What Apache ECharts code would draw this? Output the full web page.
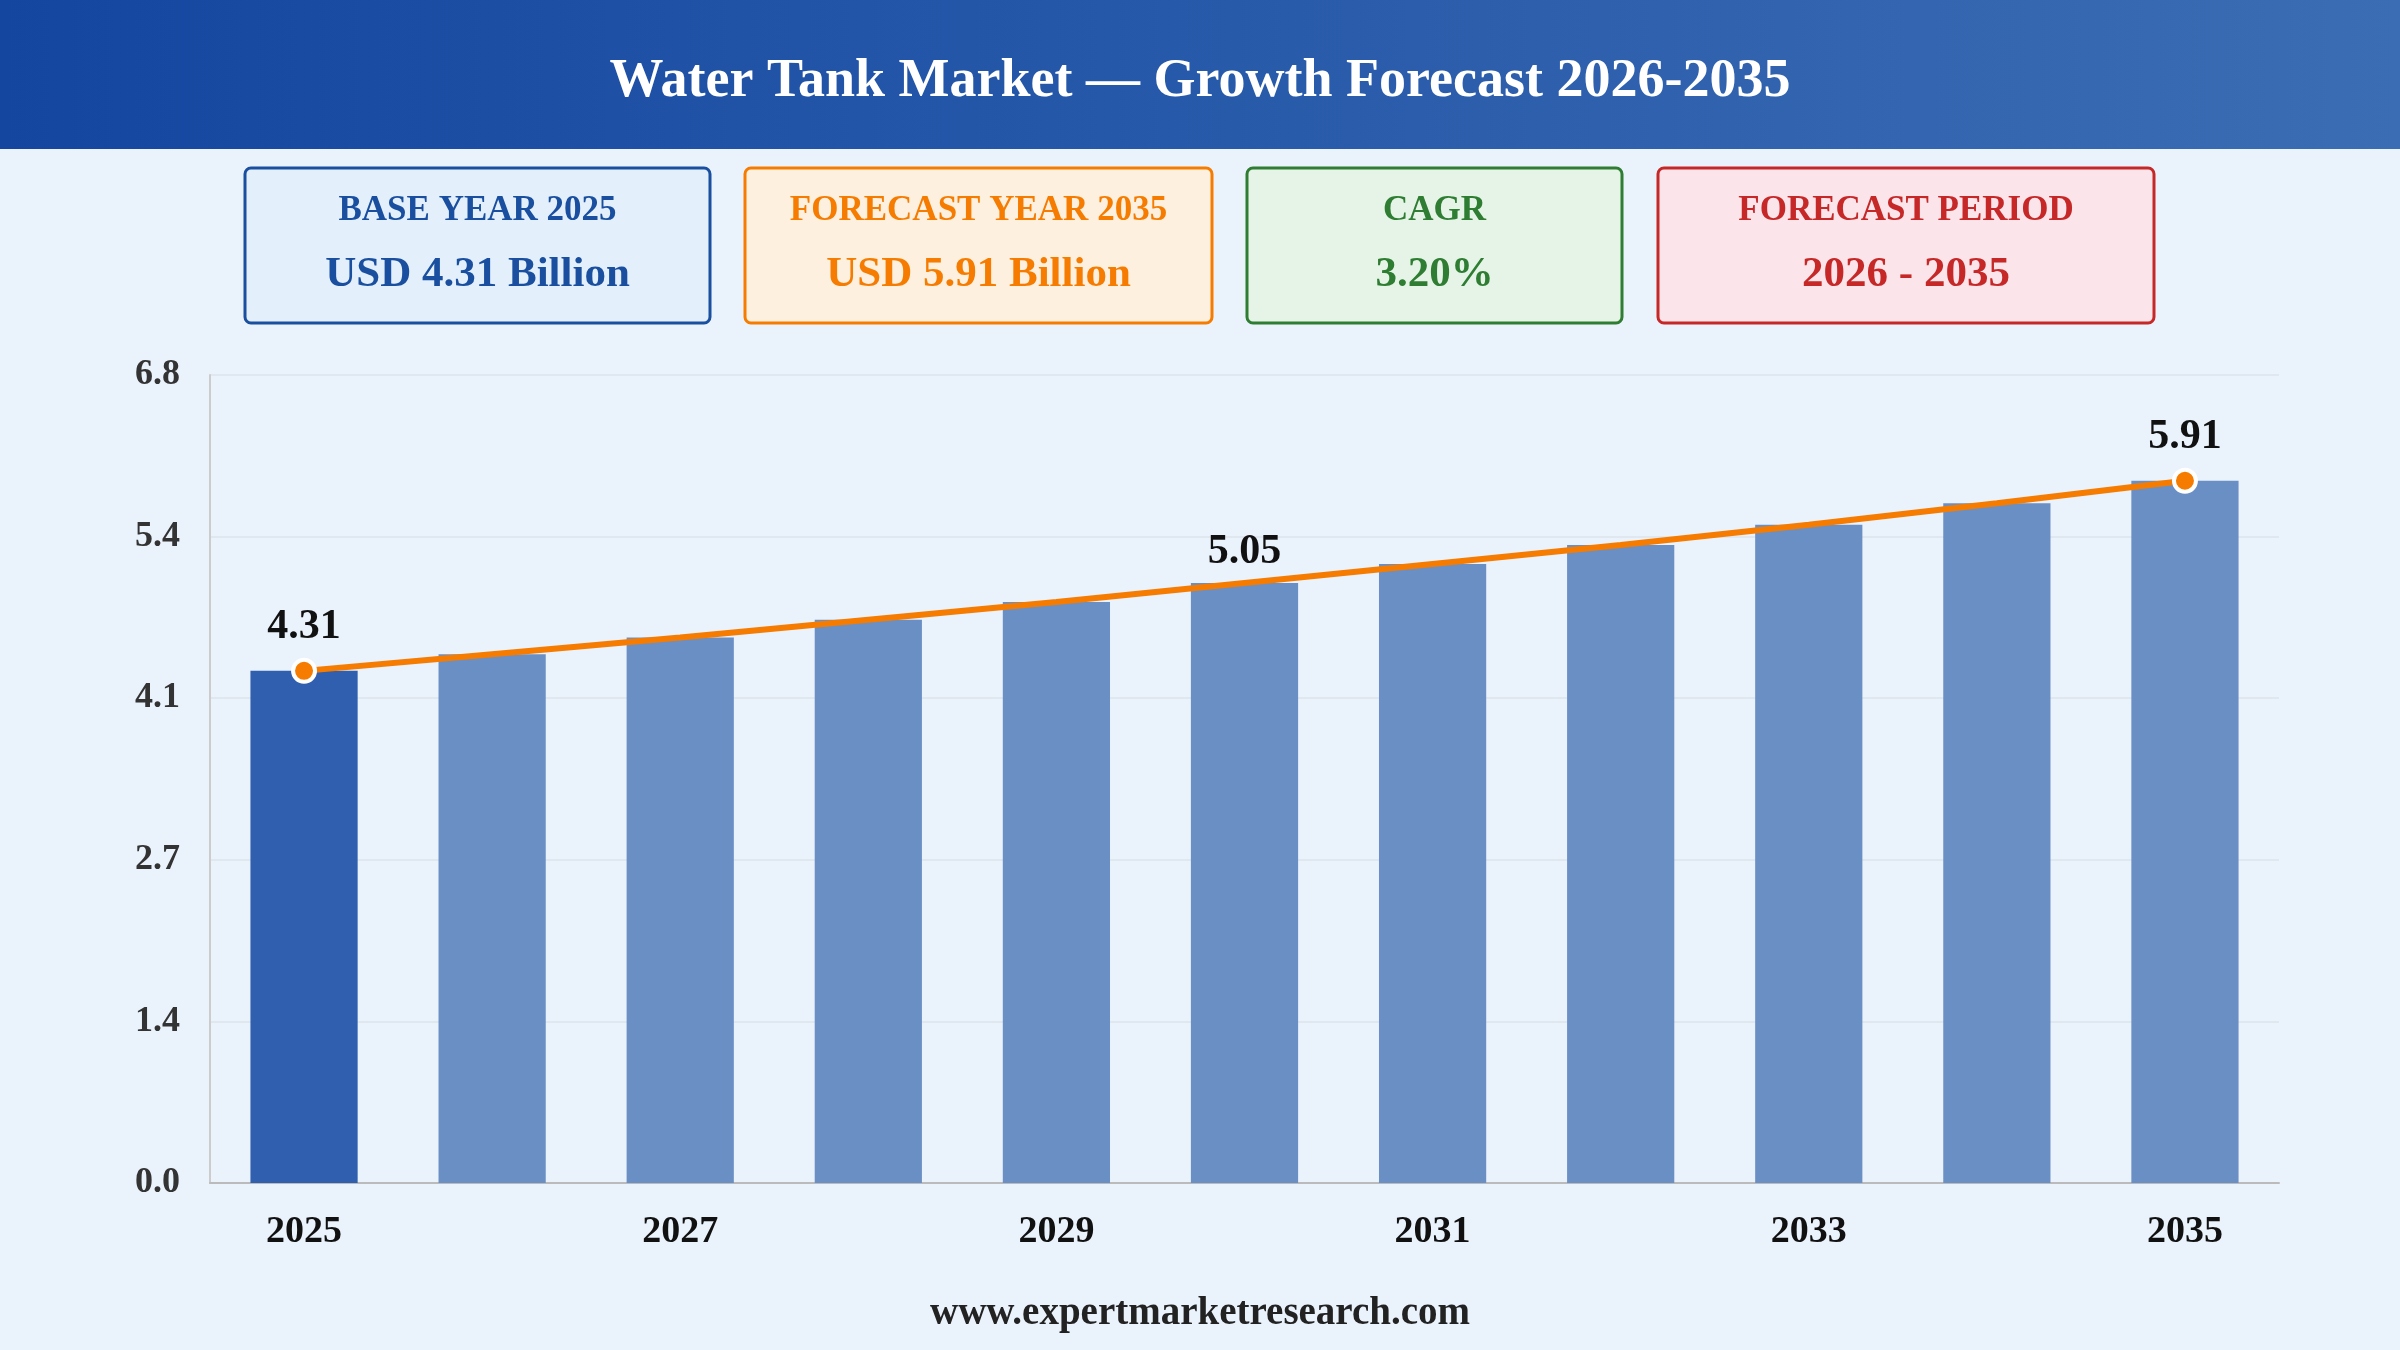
<!DOCTYPE html>
<html><head><meta charset="utf-8">
<script src="https://cdn.jsdelivr.net/npm/echarts@6/dist/echarts.min.js"></script>
<style>html,body{margin:0;padding:0;background:#eaf2fc}#c{width:2400px;height:1350px}</style>
</head><body><div id="c"></div>
<script>
const years = ['2025','2026','2027','2028','2029','2030','2031','2032','2033','2034','2035'];
const values = [4.31,4.45,4.59,4.74,4.89,5.05,5.21,5.37,5.54,5.72,5.91];
const labeledYears = ['2025','2030','2035'];
const dotYears = ['2025','2035'];
const cards = [
  {t:'BASE YEAR 2025', v:'USD 4.31 Billion', c:'#1a4fa0', bg:'#e3f0fc', x:245, w:465},
  {t:'FORECAST YEAR 2035', v:'USD 5.91 Billion', c:'#f57c00', bg:'#fdf0de', x:745, w:467},
  {t:'CAGR', v:'3.20%', c:'#2e7d32', bg:'#e5f4e7', x:1247, w:375},
  {t:'FORECAST PERIOD', v:'2026 - 2035', c:'#c62828', bg:'#fbe4ea', x:1658, w:496}
];
const F = '"Liberation Serif","DejaVu Serif",serif';
const chart = echarts.init(document.getElementById('c'));
const g = [
  {type:'rect', shape:{x:0,y:0,width:2400,height:149}, style:{fill:new echarts.graphic.LinearGradient(0,0,1,0,[{offset:0,color:'#1446a0'},{offset:1,color:'#3b6db4'}])}},
  {type:'text', x:1200, y:82, style:{text:'Water Tank Market — Growth Forecast 2026-2035', fill:'#fff', font:'bold 54px '+F, align:'center', verticalAlign:'middle'}},
  {type:'text', x:1200, y:1314, style:{text:'www.expertmarketresearch.com', fill:'#222', font:'bold 39px '+F, align:'center', verticalAlign:'middle'}}
];
cards.forEach(k=>{
  g.push({type:'rect', shape:{x:k.x,y:168,width:k.w,height:155,r:6}, style:{fill:k.bg, stroke:k.c, lineWidth:3}});
  g.push({type:'text', x:k.x+k.w/2, y:211, style:{text:k.t, fill:k.c, font:'bold 35px '+F, align:'center', verticalAlign:'middle'}});
  g.push({type:'text', x:k.x+k.w/2, y:275, style:{text:k.v, fill:k.c, font:'bold 43px '+F, align:'center', verticalAlign:'middle'}});
});
chart.setOption({
  backgroundColor:'#eaf2fc',
  animation:false,
  graphic:g,
  grid:{left:210,right:121,top:375,bottom:167},
  xAxis:{type:'category', data:years, axisTick:{show:false},
    axisLine:{lineStyle:{color:'#bbb',width:2}},
    axisLabel:{interval:1, color:'#111', fontFamily:F, fontWeight:'bold', fontSize:38, margin:30}},
  yAxis:{type:'value', min:0, max:6.8, interval:1.36,
    axisLine:{show:true,lineStyle:{color:'#ccc',width:2}},
    splitLine:{lineStyle:{color:'#dde3ea',width:1.5}},
    axisLabel:{formatter:v=>v.toFixed(1), color:'#333', fontFamily:F, fontWeight:'bold', fontSize:36, margin:30}},
  series:[
    {type:'bar', data:values.map((v,i)=>({value:v,itemStyle:{color:i===0?'#2f5fae':'#6a8fc4'}})), barWidth:'57%'},
    {type:'line', data:values.map((v,i)=>({value:v,
        symbolSize:dotYears.includes(years[i])?22:0,
        label:{show:labeledYears.includes(years[i])}})),
      symbol:'circle', showAllSymbol:true,
      itemStyle:{color:'#f57c00', borderColor:'#fff', borderWidth:4},
      lineStyle:{color:'#f57c00', width:6},
      label:{position:'top', distance:10, formatter:p=>p.value.toFixed(2), color:'#111', fontFamily:F, fontWeight:'bold', fontSize:42},
      z:5}
  ]
});
</script></body></html>
